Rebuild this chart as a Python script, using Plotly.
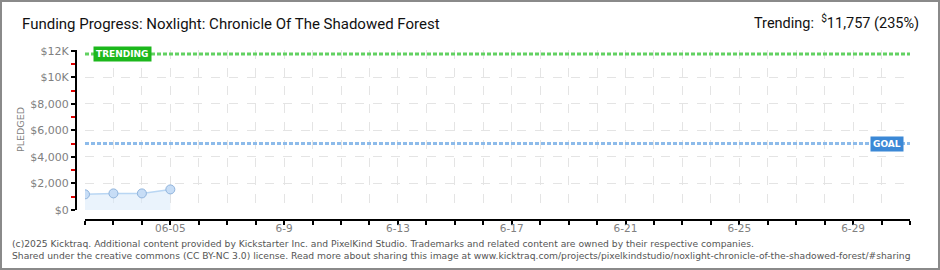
import plotly.graph_objects as go

# ---- data ----
dates = ["2025-06-02", "2025-06-03", "2025-06-04", "2025-06-05"]
pledged = [1180, 1250, 1250, 1550]
goal = 5000
trending = 11757
x_start, x_end = "2025-06-02", "2025-07-01"
xtick_vals = ["2025-06-05", "2025-06-09", "2025-06-13", "2025-06-17", "2025-06-21", "2025-06-25", "2025-06-29"]
xtick_text = ["06-05", "6-9", "6-13", "6-17", "6-21", "6-25", "6-29"]
ytick_vals = [0, 2000, 4000, 6000, 8000, 10000, 12000]
ytick_text = ["$0", "$2,000", "$4,000", "$6,000", "$8,000", "$10K", "$12K"]
yminor_vals = [1000, 3000, 5000, 7000, 9000, 11000]

W, H = 940, 270
ML, MR, MT, MB = 76, 30, 50, 50
PW, PH = W - ML - MR, H - MT - MB

def px_x(p):
    return (p - ML) / PW

def px_y(p):
    return (H - MB - p) / PH

fig = go.Figure()

fig.add_trace(go.Scatter(
    x=dates, y=pledged, mode="lines+markers",
    fill="tozeroy", fillcolor="rgba(214,232,250,0.5)",
    line=dict(color="#b9d6f3", width=1.5),
    marker=dict(size=9, color="#c7ddf6", line=dict(color="#8fb3dc", width=1)),
    hoverinfo="skip", showlegend=False,
))

# trending & goal lines
fig.add_trace(go.Scatter(
    x=[x_start, x_end], y=[trending, trending], mode="lines",
    line=dict(color="#62d162", width=3, dash="4px,2px"),
    hoverinfo="skip", showlegend=False,
))
fig.add_trace(go.Scatter(
    x=[x_start, x_end], y=[goal, goal], mode="lines",
    line=dict(color="#8dbbea", width=3, dash="4px,2px"),
    hoverinfo="skip", showlegend=False,
))

grid = "#e4e4e4"
tickfont = dict(family="DejaVu Sans", size=11, color="#808080")

fig.update_layout(
    width=W, height=H,
    margin=dict(l=ML, r=MR, t=MT, b=MB),
    paper_bgcolor="white", plot_bgcolor="white",
    xaxis=dict(
        type="date",
        range=[x_start, x_end],
        domain=[px_x(85), 1],
        anchor="free", position=0,
        tickmode="array", tickvals=xtick_vals, ticktext=xtick_text,
        ticks="outside", ticklen=4, tickwidth=1.5, tickcolor="black",
        ticklabelstandoff=-6,
        showline=True, linecolor="black", linewidth=2,
        showgrid=True, gridcolor=grid, griddash="dash", gridwidth=1,
        tickfont=dict(family="DejaVu Sans", size=10.5, color="#808080"),
        zeroline=False,
        minor=dict(dtick=86400000, tick0=x_start, ticks="outside", ticklen=4,
                   tickwidth=1.5, tickcolor="black", showgrid=True,
                   gridcolor=grid, griddash="dash", gridwidth=1),
    ),
    yaxis=dict(
        range=[0, 12050],
        domain=[px_y(210), 1],
        anchor="free", position=0,
        tickmode="array", tickvals=ytick_vals, ticktext=ytick_text,
        ticks="outside", ticklen=4, tickwidth=1.5, tickcolor="black",
        showline=True, linecolor="black", linewidth=2,
        showgrid=True, gridcolor=grid, griddash="dash", gridwidth=1,
        tickfont=tickfont, zeroline=False,
        minor=dict(tickmode="array", tickvals=yminor_vals, ticks="outside",
                   ticklen=4, tickwidth=1.5, tickcolor="#e00000", showgrid=False),
    ),
    showlegend=False,
)

ann = []
ann.append(dict(text="Funding Progress: Noxlight: Chronicle Of The Shadowed Forest",
                xref="paper", yref="paper", x=px_x(20), y=px_y(24),
                xanchor="left", yanchor="middle", showarrow=False,
                font=dict(family="Roboto", size=15, color="#111")))
ann.append(dict(text="Trending:  <sup>$</sup>11,757 (235%)",
                xref="paper", yref="paper", x=px_x(921), y=px_y(22),
                xanchor="right", yanchor="middle", showarrow=False,
                font=dict(family="Roboto", size=14.5, color="#111")))
ann.append(dict(text="PLEDGED", textangle=-90,
                xref="paper", yref="paper", x=px_x(20), y=px_y(130),
                xanchor="center", yanchor="middle", showarrow=False,
                font=dict(family="DejaVu Sans", size=9.5, color="#808080")))
ann.append(dict(text="<b>TRENDING</b>", xref="x domain", yref="y",
                x=(93 - 85) / 825, y=trending, xanchor="left", yanchor="middle",
                showarrow=False, bgcolor="#1cb81c", borderpad=2,
                font=dict(family="DejaVu Sans", size=9, color="white")))
ann.append(dict(text="<b>GOAL</b>", xref="x domain", yref="y",
                x=(904 - 85) / 825, y=goal, xanchor="right", yanchor="middle",
                showarrow=False, bgcolor="#3b88d6", borderpad=2,
                font=dict(family="DejaVu Sans", size=9, color="white")))
ann.append(dict(text="(c)2025 Kicktraq. Additional content provided by Kickstarter Inc. and PixelKind Studio. Trademarks and related content are owned by their respective companies.",
                xref="paper", yref="paper", x=px_x(10), y=px_y(243),
                xanchor="left", yanchor="middle", showarrow=False,
                font=dict(family="DejaVu Sans", size=9.2, color="#555")))
ann.append(dict(text="Shared under the creative commons (CC BY-NC 3.0) license. Read more about sharing this image at www.kicktraq.com/projects/pixelkindstudio/noxlight-chronicle-of-the-shadowed-forest/#sharing",
                xref="paper", yref="paper", x=px_x(10), y=px_y(256),
                xanchor="left", yanchor="middle", showarrow=False,
                font=dict(family="DejaVu Sans", size=9.2, color="#555")))
fig.update_layout(annotations=ann)

fig.add_shape(type="rect", xref="paper", yref="paper",
              x0=px_x(1), x1=px_x(939), y0=px_y(269), y1=px_y(1),
              line=dict(color="#8a8a8a", width=2), fillcolor="rgba(0,0,0,0)")

fig.write_html("out.html")
